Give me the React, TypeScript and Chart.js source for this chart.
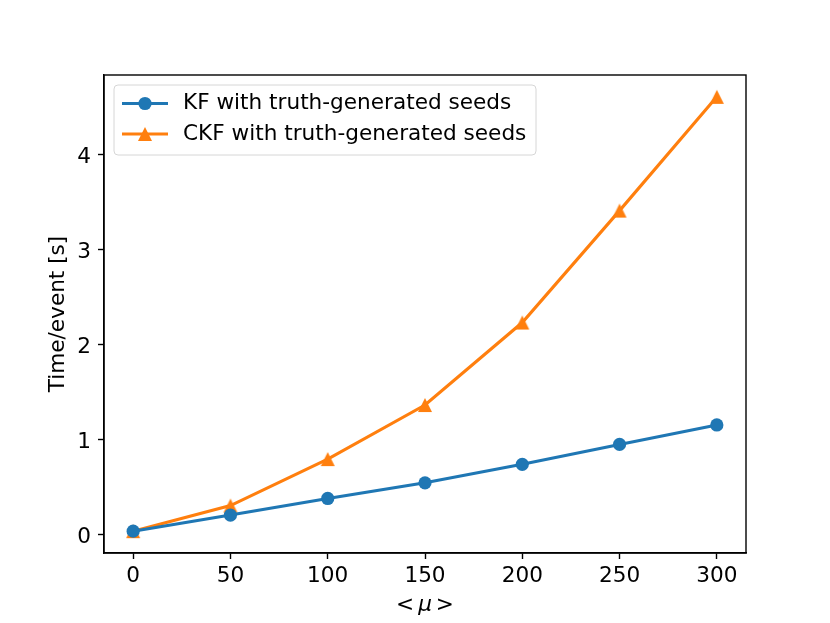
import { useEffect, useRef } from 'react';
import { Chart, registerables, Plugin } from 'chart.js';

Chart.register(...registerables);

const MU_VALUES = [0, 50, 100, 150, 200, 250, 300];
const KF_TIMES = [0.03, 0.2, 0.375, 0.54, 0.735, 0.945, 1.15];
const CKF_TIMES = [0.03, 0.3, 0.79, 1.36, 2.23, 3.41, 4.61];
const SERIES_LABELS = ['KF with truth-generated seeds', 'CKF with truth-generated seeds'];

const BLUE = '#1f77b4';
const ORANGE = '#ff7f0e';
const FONT = '"DejaVu Sans", sans-serif';
const FONT_SIZE = 21.6;
const LINE_W = 3.1;
const TRI_HALF = 7;

// matplotlib-like triangle marker ('^'), centred on its bounding box
function makeTriangle(color: string, half: number) {
  const size = Math.ceil(half * 2 + 4);
  const c = document.createElement('canvas');
  c.width = size;
  c.height = size;
  const ctx = c.getContext('2d')!;
  const m = size / 2;
  ctx.beginPath();
  ctx.moveTo(m, m - half);
  ctx.lineTo(m + half, m + half);
  ctx.lineTo(m - half, m + half);
  ctx.closePath();
  ctx.fillStyle = color;
  ctx.fill();
  return c;
}

const framePlugin: Plugin = {
  id: 'frame',
  afterDraw(chart) {
    const { ctx, chartArea: a } = chart;
    ctx.save();
    // axes box
    ctx.strokeStyle = '#000';
    ctx.lineWidth = 1.4;
    ctx.strokeRect(a.left, a.top, a.right - a.left, a.bottom - a.top);

    // x axis title "< μ >"
    ctx.fillStyle = '#000';
    ctx.textBaseline = 'alphabetic';
    const normal = `${FONT_SIZE}px ${FONT}`;
    const italic = `italic ${FONT_SIZE}px ${FONT}`;
    ctx.font = normal;
    const wl = ctx.measureText('<').width;
    const wr = ctx.measureText('>').width;
    ctx.font = italic;
    const wm = ctx.measureText('μ').width;
    const gap = 4;
    const total = wl + gap + wm + gap + wr;
    let x = (a.left + a.right) / 2 - total / 2;
    const y = 611;
    ctx.font = normal;
    ctx.fillText('<', x, y);
    x += wl + gap;
    ctx.font = italic;
    ctx.fillText('μ', x, y);
    x += wm + gap;
    ctx.font = normal;
    ctx.fillText('>', x, y);

    // legend
    const bx = 114, by = 85, bw = 422, bh = 70, r = 4;
    ctx.beginPath();
    ctx.moveTo(bx + r, by);
    ctx.arcTo(bx + bw, by, bx + bw, by + bh, r);
    ctx.arcTo(bx + bw, by + bh, bx, by + bh, r);
    ctx.arcTo(bx, by + bh, bx, by, r);
    ctx.arcTo(bx, by, bx + bw, by, r);
    ctx.closePath();
    ctx.fillStyle = 'rgba(255,255,255,0.8)';
    ctx.fill();
    ctx.strokeStyle = '#d6d6d6';
    ctx.lineWidth = 1;
    ctx.stroke();

    const rows = [
      { color: BLUE, cy: 103.5, label: SERIES_LABELS[0], marker: 'circle' },
      { color: ORANGE, cy: 134, label: SERIES_LABELS[1], marker: 'triangle' },
    ];
    rows.forEach((row) => {
      ctx.strokeStyle = row.color;
      ctx.lineWidth = LINE_W;
      ctx.beginPath();
      ctx.moveTo(122, row.cy);
      ctx.lineTo(168, row.cy);
      ctx.stroke();
      ctx.fillStyle = row.color;
      if (row.marker === 'circle') {
        ctx.beginPath();
        ctx.arc(145, row.cy, 6.6, 0, Math.PI * 2);
        ctx.fill();
      } else {
        const h = TRI_HALF;
        ctx.beginPath();
        ctx.moveTo(145, row.cy - h);
        ctx.lineTo(145 + h, row.cy + h);
        ctx.lineTo(145 - h, row.cy + h);
        ctx.closePath();
        ctx.fill();
      }
      ctx.fillStyle = '#000';
      ctx.font = normal;
      ctx.textBaseline = 'middle';
      ctx.fillText(row.label, 183, row.cy);
    });
    ctx.restore();
  },
};

export default function App() {
  const canvasRef = useRef<HTMLCanvasElement>(null);

  useEffect(() => {
    document.body.style.margin = '0';
    if (!canvasRef.current) return;

    const tickFont = { family: FONT, size: FONT_SIZE };

    const chart = new Chart(canvasRef.current, {
      type: 'line',
      data: {
        datasets: [
          {
            label: SERIES_LABELS[0],
            data: MU_VALUES.map((mu, i) => ({ x: mu, y: KF_TIMES[i] })),
            borderColor: BLUE,
            backgroundColor: BLUE,
            borderWidth: LINE_W,
            pointStyle: 'circle',
            pointRadius: 6.6,
            pointBorderWidth: 0,
            pointBackgroundColor: BLUE,
            pointBorderColor: BLUE,
            tension: 0,
          },
          {
            label: SERIES_LABELS[1],
            data: MU_VALUES.map((mu, i) => ({ x: mu, y: CKF_TIMES[i] })),
            borderColor: ORANGE,
            backgroundColor: ORANGE,
            borderWidth: LINE_W,
            pointStyle: makeTriangle(ORANGE, TRI_HALF),
            pointRadius: 7,
            tension: 0,
          },
        ],
      },
      options: {
        responsive: false,
        animation: false,
        layout: { padding: { left: 0, right: 84, top: 75, bottom: 0 } },
        scales: {
          x: {
            type: 'linear',
            min: -15,
            max: 315,
            afterFit: (s) => {
              s.height = 70;
            },
            ticks: {
              stepSize: 50,
              includeBounds: false,
              color: '#000',
              font: tickFont,
              padding: 4,
              maxRotation: 0,
            },
            grid: {
              drawOnChartArea: false,
              drawTicks: true,
              tickLength: 6,
              tickWidth: 1.4,
              color: '#000',
            },
            border: { display: true, color: '#000', width: 1.4 },
          },
          y: {
            type: 'linear',
            min: -0.2,
            max: 4.84,
            afterFit: (s) => {
              s.width = 104;
            },
            ticks: {
              stepSize: 1,
              includeBounds: false,
              color: '#000',
              font: tickFont,
              padding: 7,
              labelOffset: 3,
            },
            grid: {
              drawOnChartArea: false,
              drawTicks: true,
              tickLength: 6,
              tickWidth: 1.4,
              color: '#000',
            },
            border: { display: true, color: '#000', width: 1.4 },
            title: {
              display: true,
              text: 'Time/event [s]',
              color: '#000',
              font: { family: FONT, size: FONT_SIZE },
              padding: { top: 45, bottom: 0 },
            },
          },
        },
        plugins: {
          legend: { display: false },
          tooltip: { enabled: false },
        },
      },
      plugins: [framePlugin],
    });

    return () => {
      chart.destroy();
    };
  }, []);

  return (
    <div style={{ width: 830, height: 623, background: '#fff' }}>
      <canvas ref={canvasRef} width={830} height={623} />
    </div>
  );
}
